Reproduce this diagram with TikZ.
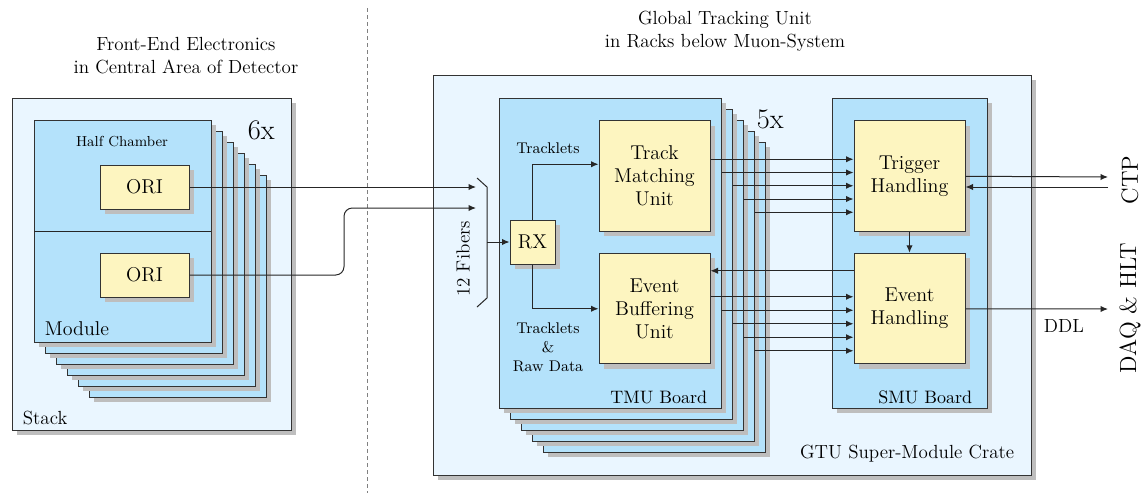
\documentclass[tikz,border=0pt]{standalone}
\usetikzlibrary{arrows.meta,shadows,calc}

\definecolor{paleblue}{RGB}{234,246,255}
\definecolor{boardblue}{RGB}{180,226,251}
\definecolor{unityellow}{RGB}{253,245,192}
\definecolor{shadowgray}{RGB}{190,190,190}

\tikzset{
  boxshadow/.style={drop shadow={shadow xshift=3pt,shadow yshift=-3pt,fill=shadowgray,opacity=1}},
  crate/.style={draw=black!80,fill=paleblue,line width=0.6pt,boxshadow},
  board/.style={draw=black!80,fill=boardblue,line width=0.6pt,boxshadow},
  unitbox/.style={draw=black!80,fill=unityellow,line width=0.6pt,boxshadow,inner sep=0pt,align=center,font=\fontsize{12}{13.8}\selectfont},
  bigunit/.style={unitbox,minimum width=66.6pt,minimum height=66.3pt},
  sig/.style={black!85,line width=0.6pt},
  smalltext/.style={font=\fontsize{9.3}{11.4}\selectfont},
  bigtext/.style={font=\fontsize{17}{19}\selectfont},
}

\begin{document}
\begin{tikzpicture}[x=0.6pt, y=-0.6pt, font=\fontsize{11.4}{13.8}\selectfont, >={Latex[length=4.5pt,width=3.8pt]}]
        \useasboundingbox (0,0) rectangle (1145,493);

        \node[align=center] (fee) at (186,56) {Front-End Electronics\\in Central Area of Detector};
        \node[align=center] (gtu) at (725,31) {Global Tracking Unit\\in Racks below Muon-System};
        \draw[black!50, dash pattern=on 2.4pt off 1.8pt, line width=0.4pt] (367,8) -- (367,493);

        \draw[crate] (12,98) rectangle (291,430);
        \foreach \i in {5,...,1}
          \draw[board] (34+11*\i,120+11*\i) rectangle (211+11*\i,342+11*\i);
        \draw[board] (34,120) rectangle (211,342);
        \draw[sig] (34,231) -- (211,231);
        \node[font=\fontsize{8.7}{10}\selectfont] (hc) at (122,142) {Half Chamber};
        \node[anchor=base west, font=\fontsize{12}{13.8}\selectfont] (mod) at (39,335) {Module};
        \node[anchor=base west] (stk) at (17,424) {Stack};
        \node[bigtext, anchor=base west] (six) at (242,139) {6x};
        \node[unitbox, minimum width=53.4pt, minimum height=26.4pt] (ori1) at (144.5,187) {ORI};
        \node[unitbox, minimum width=53.4pt, minimum height=26.4pt] (ori2) at (144.5,275) {ORI};

        \draw[crate] (433,75) rectangle (1031,475);
        \foreach \i in {4,...,1}
          \draw[board] (499+11*\i,98+11*\i) rectangle (721+11*\i,408+11*\i);
        \draw[board] (499,98) rectangle (721,408);
        \draw[board] (832,98) rectangle (987,408);
        \node[anchor=base east] (gsc) at (1020,458) {GTU Super-Module Crate};
        \node[anchor=base east, font=\fontsize{10.8}{13}\selectfont] (tmub) at (713,403) {TMU Board};
        \node[anchor=base east, font=\fontsize{10.8}{13}\selectfont] (smub) at (978,403) {SMU Board};
        \node[bigtext, anchor=base west] (five) at (751,128) {5x};

        \node[unitbox, minimum width=27pt, minimum height=26.4pt] (rx) at (532.5,242) {RX};
        \node[bigunit] (tmu) at (654.5,176) {Track\\Matching\\Unit};
        \node[bigunit] (ebu) at (654.5,308.5) {Event\\Buffering\\Unit};
        \node[bigunit] (th) at (909.5,176) {Trigger\\Handling};
        \node[bigunit] (eh) at (909.5,308.5) {Event\\Handling};
        \node[smalltext] (trk) at (548,148) {Tracklets};
        \node[smalltext, align=center] (raw) at (548,347) {Tracklets\\\&\\Raw Data};

        \coordinate (f1) at (476,187);
        \coordinate (f2) at (476,208);
        \coordinate (fib) at (487,242);
        \coordinate (ctpout) at (1108,177);
        \coordinate (ctpin) at (1108,187);
        \coordinate (daq) at (1108,309);

        \draw[sig, ->] (ori1.east) -- (f1);
        \draw[sig, ->, rounded corners=5pt] (ori2.east) -| ($(f2)+(-132,0)$) -- (f2);
        \draw[sig] (477,178) -- (fib |- f1) -- (487,298) -- (477,307);
        \node[rotate=90] (fbr) at (463,259) {12 Fibers};
        \draw[sig, ->] (fib) -- (rx);
        \draw[sig, ->] (rx.north) |- ($(tmu.north west)+(0,44)$);
        \draw[sig, ->] (rx.south) |- ($(ebu.north west)+(0,56)$);

        \foreach \i in {0,...,4} {
          \coordinate (s) at ($(tmu.north east)+(11*\i,39+13.25*\i)$);
          \draw[sig, ->] (s) -- (s -| th.west);
          \coordinate (e) at ($(ebu.north east)+(11*\i,44+13.5*\i)$);
          \draw[sig, ->] (e) -- (e -| eh.west);
        }
        \coordinate (r) at ($(eh.north west)+(0,18)$);
        \draw[sig, ->] (r) -- (r -| ebu.east);
        \draw[sig, ->] (th) -- (eh);

        \draw[sig, ->] ($(th.north east)+(0,56)$) -- (ctpout);
        \draw[sig, ->] (ctpin) -- (ctpin -| th.east);
        \draw[sig, ->] ($(eh.north east)+(0,56)$) -- (daq);
        \node (ddl) at (1064,326) {DDL};
        \node[rotate=90, font=\fontsize{14}{15}\selectfont] (ctp) at (1130,180) {CTP};
        \node[rotate=90, font=\fontsize{14}{15}\selectfont] (dh) at (1130,308) {DAQ \& HLT};
\end{tikzpicture}
\end{document}
